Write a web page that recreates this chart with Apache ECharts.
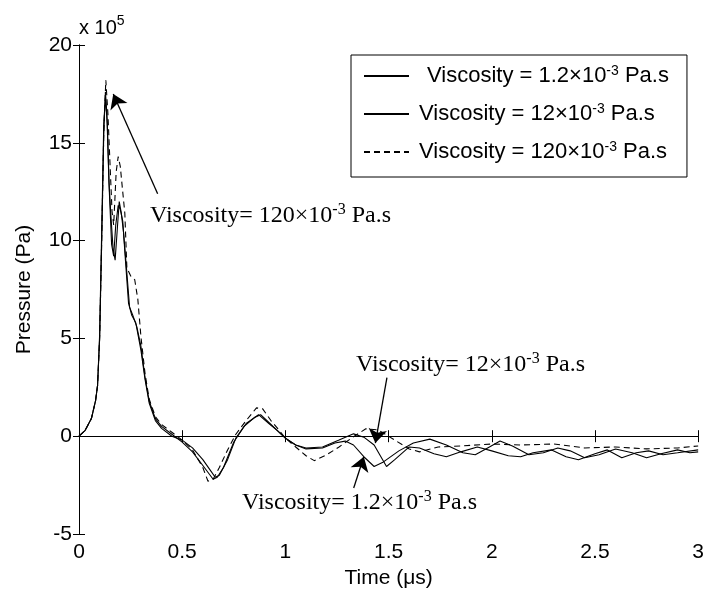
<!DOCTYPE html>
<html>
<head>
<meta charset="utf-8">
<script src="https://cdn.jsdelivr.net/npm/echarts@6/dist/echarts.min.js"></script>
<style>
  html, body { margin: 0; padding: 0; background: #fff; }
  #main { width: 707px; height: 596px; }
</style>
</head>
<body>
<div id="main"></div>
<script>
const chart = echarts.init(document.getElementById("main"));

// ********
// * Data *
// ********

// Time in microseconds, pressure in units of 1e5 Pa
const t1 = [0, 0.03, 0.06, 0.08, 0.09, 0.1, 0.11, 0.12, 0.128, 0.135, 0.145, 0.155, 0.165, 0.175, 0.185, 0.195, 0.205, 0.215, 0.23, 0.245, 0.26, 0.28, 0.3, 0.32, 0.34, 0.37, 0.4, 0.45, 0.5, 0.55, 0.6, 0.65, 0.67, 0.7, 0.75, 0.8, 0.85, 0.88, 0.92, 0.96, 1.0, 1.05, 1.1, 1.18, 1.24, 1.29, 1.33, 1.38, 1.43, 1.47, 1.55, 1.62, 1.7, 1.78, 1.86, 1.92, 1.98, 2.04, 2.1, 2.18, 2.25, 2.32, 2.38, 2.45, 2.52, 2.6, 2.68, 2.75, 2.82, 2.9, 2.96, 3.0];
const p1 = [0, 0.3, 0.9, 1.8, 2.6, 5, 10, 15.5, 17.6, 16.5, 13, 11.2, 9.6, 9.0, 10.5, 12.0, 11.4, 10.5, 8.6, 6.6, 6.2, 5.6, 4.6, 3.0, 1.8, 0.9, 0.5, 0.1, -0.3, -0.8, -1.5, -2.2, -2.1, -1.6, -0.3, 0.5, 0.95, 1.1, 0.7, 0.3, -0.1, -0.45, -0.65, -0.6, -0.35, -0.25, -0.45, -1.05, -1.55, -1.35, -0.75, -0.35, -0.15, -0.45, -0.85, -0.95, -0.6, -0.25, -0.5, -0.95, -0.85, -0.6, -0.75, -1.1, -0.95, -0.65, -0.85, -1.1, -0.9, -0.7, -0.85, -0.8];

const t2 = [0, 0.03, 0.06, 0.08, 0.09, 0.1, 0.11, 0.12, 0.128, 0.137, 0.147, 0.158, 0.168, 0.178, 0.19, 0.2, 0.212, 0.225, 0.24, 0.255, 0.275, 0.3, 0.32, 0.34, 0.37, 0.4, 0.45, 0.5, 0.55, 0.6, 0.64, 0.66, 0.68, 0.72, 0.76, 0.81, 0.87, 0.92, 0.96, 1.0, 1.05, 1.1, 1.18, 1.26, 1.33, 1.38, 1.43, 1.49, 1.53, 1.6, 1.65, 1.72, 1.78, 1.85, 1.93, 2.0, 2.08, 2.14, 2.2, 2.29, 2.36, 2.42, 2.5, 2.56, 2.63, 2.7, 2.76, 2.83, 2.9, 3.0];
const p2 = [0, 0.3, 0.9, 1.8, 2.6, 5.2, 10.5, 16, 17.3, 16, 12.5, 9.8, 9.2, 10.8, 11.8, 11.6, 11.0, 9.0, 6.8, 6.2, 5.8, 4.4, 2.9, 1.7, 0.8, 0.4, 0, -0.2, -0.6, -1.2, -1.8, -2.1, -2.0, -1.2, -0.1, 0.65, 1.1, 0.65, 0.3, -0.1, -0.45, -0.6, -0.55, -0.2, 0.12, -0.05, -0.45, -1.55, -1.2, -0.55, -0.6, -0.9, -1.05, -0.8, -0.55, -0.75, -1.0, -1.05, -0.85, -0.7, -1.05, -1.2, -0.9, -0.7, -1.1, -0.85, -0.75, -0.95, -0.85, -0.7];

const t3 = [0, 0.03, 0.06, 0.08, 0.09, 0.1, 0.11, 0.12, 0.13, 0.14, 0.15, 0.16, 0.168, 0.18, 0.19, 0.2, 0.21, 0.222, 0.232, 0.25, 0.27, 0.285, 0.3, 0.32, 0.34, 0.37, 0.4, 0.45, 0.5, 0.55, 0.6, 0.625, 0.65, 0.68, 0.72, 0.76, 0.81, 0.86, 0.89, 0.93, 0.97, 1.0, 1.05, 1.1, 1.14, 1.2, 1.26, 1.32, 1.39, 1.45, 1.53, 1.6, 1.65, 1.74, 1.85, 2.0, 2.14, 2.3, 2.45, 2.6, 2.75, 2.9, 3.0];
const p3 = [0, 0.3, 0.9, 1.8, 2.6, 5, 10, 15.5, 18.2, 16.5, 14, 11.5, 10.8, 13.5, 14.3, 13.8, 12.7, 11.4, 8.6, 8.2, 8.0, 7.0, 5.1, 3.2, 1.9, 1.0, 0.6, 0.2, -0.2, -0.7, -1.6, -2.3, -2.2, -1.6, -0.7, 0.1, 0.8, 1.45, 1.4, 0.8, 0.3, -0.1, -0.55, -1.0, -1.25, -0.95, -0.55, -0.1, 0.38, 0.32, -0.2, -0.65, -0.8, -0.55, -0.5, -0.4, -0.45, -0.4, -0.6, -0.55, -0.65, -0.6, -0.5];

// Legend labels: [text before exponent, exponent, text after exponent]
const legendParts = [
  ["Viscosity = 1.2×10", "-3", " Pa.s"],
  ["Viscosity = 12×10", "-3", " Pa.s"],
  ["Viscosity = 120×10", "-3", " Pa.s"],
];
const legendNames = legendParts.map((p) => p.join(""));

// Annotation arrows: [startT, startP, endT, endP] in data units
const arrowCoords = [
  [0.381, 12.4, 0.166, 17.5],
  [1.492, 3.0, 1.436, -0.35],
  [1.331, -2.65, 1.38, -1.05],
];

// *************
// * Functions *
// *************

function zip(ts, ps) {
  return ts.map((t, i) => [t, ps[i]]);
}

// Rich text with a superscript: lead style for the first chunk, base for the tail
function supText(base, exp, tail, lead, style) {
  return `{${lead}|${base}}{${style}s|${exp}}{${style}|${tail}}`;
}

const black = "#000";
const sansFont = "Liberation Sans";
const serifFont = "Liberation Serif";

const commonTick = { show: true, inside: true, length: 6, lineStyle: { color: black, width: 1 } };

const legendFont = { fontFamily: sansFont, fontSize: 22, lineHeight: 24, color: black };
const legendSup = { fontFamily: sansFont, fontSize: 14, lineHeight: 14, verticalAlign: "top", color: black };

const noteRich = {
  t: { fontFamily: serifFont, fontSize: 24, lineHeight: 28, color: black },
  ts: { fontFamily: serifFont, fontSize: 16, lineHeight: 16, verticalAlign: "top", color: black },
};

const option = {
  animation: false,
  backgroundColor: "#fff",
  grid: { left: 79, right: 6, top: 45, bottom: 62, containLabel: false },
  legend: {
    orient: "vertical",
    left: 351,
    top: 55,
    padding: [9, 18, 14, 12],
    itemGap: 15,
    itemWidth: 45,
    itemHeight: 14,
    backgroundColor: "#fff",
    borderColor: black,
    borderWidth: 1,
    borderRadius: 0,
    // hide the circle marker, keep only the line sample
    itemStyle: { opacity: 0 },
    data: legendNames,
    formatter: (name) => {
      const i = legendNames.indexOf(name);
      const p = legendParts[i];
      return supText(p[0], p[1], p[2], i === 0 ? "f" : "g", "a");
    },
    textStyle: {
      color: black,
      fontFamily: sansFont,
      fontSize: 22,
      rich: {
        f: Object.assign({}, legendFont, { padding: [0, 0, 0, 13] }),
        g: Object.assign({}, legendFont, { padding: [0, 0, 0, 5] }),
        a: legendFont,
        as: legendSup,
      },
    },
  },
  xAxis: [
    {
      type: "value",
      min: 0,
      max: 3,
      interval: 0.5,
      position: "bottom",
      name: "Time (μs)",
      nameLocation: "middle",
      nameGap: 33,
      nameTextStyle: { color: black, fontFamily: sansFont, fontSize: 21 },
      axisLine: { show: true, lineStyle: { color: black, width: 1 } },
      axisTick: commonTick,
      axisLabel: { color: black, fontFamily: sansFont, fontSize: 21, margin: 8, showMaxLabel: true, showMinLabel: true },
      splitLine: { show: false },
    },
    {
      type: "value",
      min: 0,
      max: 3,
      interval: 0.5,
      position: "top",
      axisLine: { show: true, lineStyle: { color: black, width: 1 } },
      axisTick: commonTick,
      axisLabel: { show: false },
      splitLine: { show: false },
    },
  ],
  yAxis: [
    {
      type: "value",
      min: -5,
      max: 20,
      interval: 5,
      position: "left",
      name: "Pressure (Pa)",
      nameLocation: "middle",
      nameGap: 44,
      nameTextStyle: { color: black, fontFamily: sansFont, fontSize: 21 },
      axisLine: { show: true, lineStyle: { color: black, width: 1 } },
      axisTick: commonTick,
      axisLabel: { color: black, fontFamily: sansFont, fontSize: 21, margin: 7 },
      splitLine: { show: false },
    },
    {
      type: "value",
      min: -5,
      max: 20,
      interval: 5,
      position: "right",
      axisLine: { show: true, lineStyle: { color: black, width: 1 } },
      axisTick: commonTick,
      axisLabel: { show: false },
      splitLine: { show: false },
    },
  ],
  series: [
    {
      name: legendNames[0],
      type: "line",
      data: zip(t1, p1),
      symbol: "none",
      lineStyle: { color: black, width: 1.1, type: "solid" },
      itemStyle: { color: black },
    },
    {
      name: legendNames[1],
      type: "line",
      data: zip(t2, p2),
      symbol: "none",
      lineStyle: { color: black, width: 1.1, type: "solid" },
      itemStyle: { color: black },
    },
    {
      name: legendNames[2],
      type: "line",
      data: zip(t3, p3),
      symbol: "none",
      lineStyle: { color: black, width: 1.1, type: [6, 4] },
      itemStyle: { color: black },
      markLine: {
        silent: true,
        symbol: ["none", "arrow"],
        symbolSize: 14,
        label: { show: false },
        lineStyle: { color: black, width: 1.3, type: "solid" },
        emphasis: { disabled: true },
        data: arrowCoords.map((a) => [{ coord: [a[0], a[1]] }, { coord: [a[2], a[3]] }]),
      },
    },
  ],
  graphic: [
    // "x 10^5" multiplier above the y axis
    {
      type: "text",
      x: 79,
      y: 28,
      style: {
        text: "{m|x 10}{e|5}",
        verticalAlign: "middle",
        rich: {
          m: { fontFamily: sansFont, fontSize: 20, lineHeight: 28, color: black },
          e: { fontFamily: sansFont, fontSize: 14, lineHeight: 14, verticalAlign: "top", color: black },
        },
      },
    },
    {
      type: "text",
      x: 150,
      y: 216,
      style: { text: supText("Viscosity= 120×10", "-3", " Pa.s", "t", "t"), verticalAlign: "middle", rich: noteRich },
    },
    {
      type: "text",
      x: 356,
      y: 365,
      style: { text: supText("Viscosity= 12×10", "-3", " Pa.s", "t", "t"), verticalAlign: "middle", rich: noteRich },
    },
    {
      type: "text",
      x: 242,
      y: 503,
      style: { text: supText("Viscosity= 1.2×10", "-3", " Pa.s", "t", "t"), verticalAlign: "middle", rich: noteRich },
    },
  ],
};

chart.setOption(option);
</script>
</body>
</html>
